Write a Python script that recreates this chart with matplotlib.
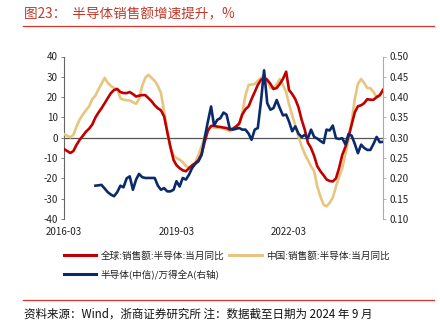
import numpy as np
import pandas as pd
import matplotlib
matplotlib.use('Agg')
import matplotlib.pyplot as plt
from matplotlib.lines import Line2D

plt.rcParams['font.family'] = ['Noto Sans CJK SC', 'DejaVu Sans']
plt.rcParams['axes.unicode_minus'] = False

# data (monthly, 2016-03 .. 2024-09)
# ------------------------------------------------------------------------------
months = pd.date_range('2016-03-01', '2024-09-01', freq='MS')

globalSales = [-5.6, -6.5, -7.5, -6.5, -3.5, -1, 1, 3, 4.5, 6.5,
               10, 12.5, 14.5, 17, 19.5, 22, 23.5, 24, 22.5, 22,
               22, 22.5, 21.5, 20.3, 20.7, 21, 21, 19.5, 18, 16,
               14.5, 13.5, 10.5, 3, -4.5, -11, -13.5, -15, -16, -16.5,
               -15, -13.5, -12.5, -11, -8, -2, 3.5, 5.8, 5.9, 5.5,
               5.3, 5, 4.8, 4, 4.5, 5.5, 7, 11.5, 14, 15.5,
               19, 22.5, 26, 28.5, 29.5, 28.5, 26.5, 24, 24.5, 26.5,
               29, 32.5, 23.5, 21.5, 19, 15, 9, 4, -2.5, -5,
               -9, -14, -16.5, -18.5, -20.5, -21.3, -21.5, -20, -15, -8.5,
               -4.5, 0.5, 6.5, 12.5, 15.5, 16, 17, 19, 18.7, 18.7,
               20, 21, 23.5]

chinaSales = [1.8, 1, 0.2, 1.5, 5.5, 9, 11.5, 13.5, 15.5, 19,
              20.7, 24, 26.5, 29.5, 27, 25.5, 24.5, 24, 19.5, 18.7,
              18.5, 18.4, 17.5, 16.7, 19, 25.5, 29.5, 31, 29.5, 28,
              25.5, 22, 13, 3, -5, -8.5, -10, -10.8, -12, -14,
              -14.5, -15, -12, -8.5, -4, 0.5, 3.9, 5.6, 5, 4.8,
              5, 4.5, 3.9, 3.2, 4, 5.6, 6.4, 12, 21, 26,
              26.2, 26.5, 28, 29.5, 31, 28, 24.5, 24, 26.5, 28.9,
              26, 22.5, 16.5, 11, 6, 0.5, -4, -8, -11, -14,
              -16.5, -24, -29, -33, -33.8, -32, -29.5, -24, -19.5, -15,
              -8, -1, 8, 19, 26.5, 28.9, 27, 24.5, 24.4, 22.5,
              20, 20.5, 23.6]

# ratio series starts 2017-01
ratioStart = 10
semiRatio = [0.182, 0.183, 0.184, 0.175, 0.166, 0.160, 0.156, 0.166, 0.182, 0.178,
             0.200, 0.205, 0.172, 0.197, 0.211, 0.203, 0.201, 0.201, 0.201, 0.201,
             0.182, 0.172, 0.176, 0.168, 0.168, 0.172, 0.193, 0.180, 0.201, 0.197,
             0.209, 0.226, 0.236, 0.242, 0.258, 0.300, 0.340, 0.377, 0.330, 0.344,
             0.348, 0.362, 0.357, 0.322, 0.320, 0.322, 0.324, 0.320, 0.320, 0.310,
             0.295, 0.320, 0.324, 0.390, 0.466, 0.385, 0.369, 0.373, 0.393, 0.373,
             0.355, 0.357, 0.340, 0.316, 0.328, 0.310, 0.302, 0.307, 0.299, 0.320,
             0.302, 0.298, 0.292, 0.287, 0.320, 0.318, 0.330, 0.299, 0.297, 0.299,
             0.284, 0.309, 0.305, 0.285, 0.262, 0.283, 0.275, 0.270, 0.270, 0.285,
             0.302, 0.289, 0.290]

xTicks = ['2016-03', '2019-03', '2022-03']
leftTicks = [40, 30, 20, 10, 0, -10, -20, -30, -40]
rightTicks = [0.50, 0.45, 0.40, 0.35, 0.30, 0.25, 0.20, 0.15, 0.10]

labels = ['全球:销售额:半导体:当月同比', '中国:销售额:半导体:当月同比',
          '半导体(中信)/万得全A(右轴)']
colors = ['#C00000', '#E8C57E', '#0B2A6B']

# plot
# ------------------------------------------------------------------------------
W, H = 440, 331
fig = plt.figure(figsize=(W / 100, H / 100), dpi=100)
ax = fig.add_axes([64 / W, 1 - 219 / H, (383 - 64) / W, (219 - 56.5) / H])
ax2 = ax.twinx()

ax.plot(months, chinaSales, color=colors[1], lw=1.9, zorder=3)
ax.plot(months, globalSales, color=colors[0], lw=1.9, zorder=4)
ax2.plot(months[ratioStart:], semiRatio, color=colors[2], lw=1.9, zorder=5)
ax.axhline(0, color='#555555', lw=0.9, zorder=2)

ax.set_xlim(months[0], months[-1])
ax.set_ylim(-40, 40)
ax2.set_ylim(0.10, 0.50)
ax.set_yticks(leftTicks)
ax2.set_yticks(rightTicks)
ax2.set_yticklabels(['%.2f' % t for t in rightTicks])
ax.set_xticks(pd.to_datetime(xTicks))
ax.set_xticklabels(xTicks)

for a in (ax, ax2):
    for s in ('top', 'bottom'):
        a.spines[s].set_visible(False)
ax.spines['right'].set_visible(False)
ax2.spines['left'].set_visible(False)
ax.spines['left'].set_color('#666666')
ax2.spines['right'].set_color('#AAAAAA')
ax.tick_params(axis='y', labelsize=7, length=2.5, width=0.6, color='#666666', pad=2, labelcolor='#222222')
ax2.tick_params(axis='y', labelsize=7, length=2.5, width=0.6, color='#AAAAAA', pad=2, labelcolor='#222222')
ax.tick_params(axis='x', labelsize=7, length=0, pad=6, labelcolor='#222222')

# legend: column-wise fill, so red/blue in col 1, gold in col 2
order = [0, 2, 1]
handles = [Line2D([], [], color=colors[i], lw=2.2) for i in order]
fig.legend(handles, [labels[i] for i in order], loc='upper left',
           bbox_to_anchor=(60 / W, 1 - 247 / H),
           ncol=2, frameon=False, fontsize=6.9, handlelength=3.4, handletextpad=0.45,
           columnspacing=0.5, labelspacing=0.95, borderaxespad=0, labelcolor='#222222')

# title and source
fig.text(24 / W, 1 - 14 / H, '图23：  半导体销售额增速提升，%', color='#C0392B',
         fontsize=9.8, va='center', ha='left')
fig.add_artist(Line2D([23 / W, 434 / W], [1 - 26 / H, 1 - 26 / H], color='#D9342B', lw=0.9))
fig.add_artist(Line2D([23 / W, 434 / W], [1 - 300 / H, 1 - 300 / H], color='#D9342B', lw=0.9))
fig.text(24 / W, 1 - 314 / H, '资料来源：Wind，浙商证券研究所 注：数据截至日期为 2024 年 9 月',
         color='#111111', fontsize=8.3, va='center', ha='left')

fig.savefig('out.png', dpi=100)
